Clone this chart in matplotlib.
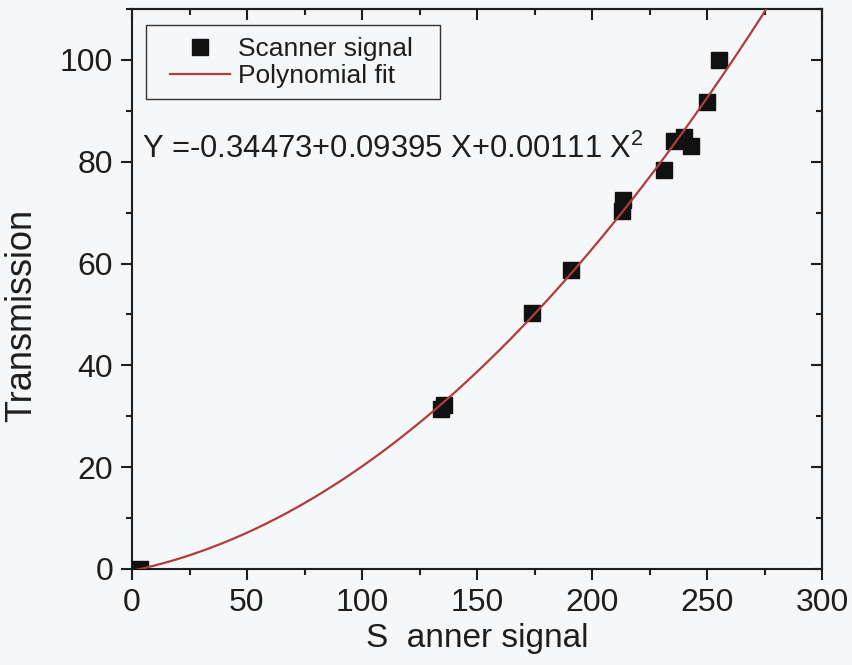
import numpy as np
import matplotlib
matplotlib.use("Agg")
import matplotlib.pyplot as plt
from matplotlib.ticker import MultipleLocator
from matplotlib.patches import Rectangle

plt.rcParams['font.family'] = ['Liberation Sans', 'DejaVu Sans']

# Data
scanner = [3.5, 134.5, 135.5, 174, 191, 213, 213.5, 231.5, 235.5, 240, 243, 250, 255]
transmission = [0.0, 31.5, 32.3, 50.2, 58.8, 70.4, 72.4, 78.4, 84.1, 84.8, 83.1, 91.8, 100.0]

# Polynomial fit coefficients (from the equation in the chart)
c0, c1, c2 = -0.34473, 0.09395, 0.00111
fit_x = np.linspace(0, 290, 300)
fit_y = c0 + c1 * fit_x + c2 * fit_x ** 2

ink = '#1e1e1e'
bg = '#f6f7f9'
fig = plt.figure(figsize=(8.52, 6.65), dpi=100, facecolor=bg)
ax = fig.add_axes([132/852, 1 - 569/665, 690/852, 560/665])
ax.set_facecolor(bg)

ax.plot(scanner, transmission, linestyle='none', marker='s', markersize=12,
        color='#111111', label='Scanner signal', zorder=3)
ax.plot(fit_x, fit_y, color='#b03c3c', linewidth=1.6, label='Polynomial fit', zorder=4)

ax.set_xlim(0, 300)
ax.set_ylim(0, 110)
ax.xaxis.set_major_locator(MultipleLocator(50))
ax.xaxis.set_minor_locator(MultipleLocator(25))
ax.yaxis.set_major_locator(MultipleLocator(20))
ax.yaxis.set_minor_locator(MultipleLocator(10))

for s in ax.spines.values():
    s.set_linewidth(1.5)
    s.set_color(ink)

ax.tick_params(which='both', direction='out', top=False, right=False,
               width=1.5, colors=ink, labelsize=23, labelcolor=ink)
ax.tick_params(which='major', length=8, pad=5.5)
ax.tick_params(which='minor', length=4)

# inward ticks on top and right
axt = ax.secondary_xaxis('top')
axt.xaxis.set_major_locator(MultipleLocator(50))
axt.xaxis.set_minor_locator(MultipleLocator(25))
axt.tick_params(which='both', direction='in', labeltop=False, width=1.5, colors=ink)
axt.tick_params(which='major', length=8)
axt.tick_params(which='minor', length=4)
axr = ax.secondary_yaxis('right')
axr.yaxis.set_major_locator(MultipleLocator(20))
axr.yaxis.set_minor_locator(MultipleLocator(10))
axr.tick_params(which='both', direction='in', labelright=False, width=1.5, colors=ink)
axr.tick_params(which='major', length=8)
axr.tick_params(which='minor', length=4)
for sp in (axt.spines.values(), axr.spines.values()):
    for s in sp:
        s.set_linewidth(1.5)
        s.set_color(ink)

ax.set_xlabel('S  anner signal', fontsize=24, color=ink, va='top')
ax.xaxis.set_label_coords(0.5, -0.096)
ax.set_ylabel('Transmission', fontsize=26, color=ink, va='bottom')
ax.yaxis.set_label_coords(-0.135, 0.4536)

# legend (frame drawn separately so padding can differ horizontally/vertically)
leg = ax.legend(loc='upper left', bbox_to_anchor=(0.0551, 0.9495), borderaxespad=0,
                fontsize=19, frameon=False, handlelength=2.27,
                handletextpad=0.3, borderpad=0, labelspacing=0.12)
for t in leg.get_texts():
    t.set_color(ink)
ax.add_patch(Rectangle((0.0203, 0.8393), 0.4261, 0.1321, transform=ax.transAxes,
                       facecolor='none', edgecolor='#333333', linewidth=1.0, zorder=5))

ax.text(4.3, 80.8, 'Y =-0.34473+0.09395 X+0.00111 X$\\mathregular{^2}$',
        fontsize=22.3, color=ink, va='baseline', ha='left')

fig.savefig('out.png', dpi=100, facecolor=bg)
